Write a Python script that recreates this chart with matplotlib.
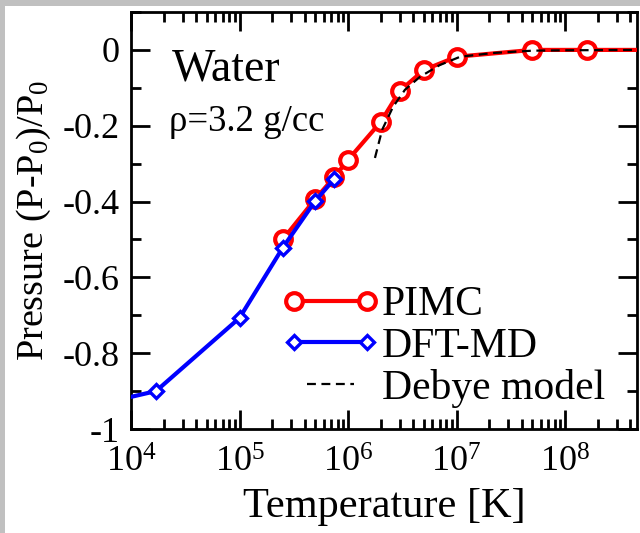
import matplotlib
matplotlib.use("Agg")
import matplotlib.pyplot as plt
from matplotlib.patches import Rectangle
from matplotlib.legend_handler import HandlerLine2D
from matplotlib.ticker import FixedLocator, LogLocator, NullFormatter, MultipleLocator

plt.rcParams['font.family'] = ['Liberation Serif', 'DejaVu Serif']
plt.rcParams['mathtext.fontset'] = 'custom'
plt.rcParams['mathtext.rm'] = 'Liberation Serif'
plt.rcParams['mathtext.it'] = 'Liberation Serif:italic'
plt.rcParams['axes.unicode_minus'] = False

# Data
pimc_T = [2.5e5, 5e5, 7.5e5, 1e6, 2e6, 3e6, 5e6, 1e7, 5e7, 1.6e8, 1e9]
pimc_P = [-0.50, -0.393, -0.335, -0.29, -0.19, -0.108, -0.053, -0.018, 0.0, 0.0, 0.0]

dft_T = [6e3, 1.7e4, 1e5, 2.5e5, 5e5, 7.5e5]
dft_P = [-0.93, -0.90, -0.707, -0.522, -0.398, -0.340]

debye_T = [1.77e6, 2.06e6, 2.6e6, 3.35e6, 4.6e6, 7e6, 1.08e7, 2.2e7, 5e7, 1e8, 5e8, 1e9]
debye_P = [-0.285, -0.211, -0.150, -0.105, -0.071, -0.040, -0.018, -0.008, -0.002, -0.001, 0.0, 0.0]

yticks = [-1, -0.8, -0.6, -0.4, -0.2, 0]
ytick_labels = ['-1', '-0.8', '-0.6', '-0.4', '-0.2', '0']
xticks = [1e4, 1e5, 1e6, 1e7, 1e8]
xtick_labels = [r'$10^{4}$', r'$10^{5}$', r'$10^{6}$', r'$10^{7}$', r'$10^{8}$']

fig = plt.figure(figsize=(6.4, 5.33), dpi=100)
fig.patch.set_facecolor('#c0c0c0')
fig.patches.append(Rectangle((5/640, 0), 1, (533-6)/533, transform=fig.transFigure,
                             facecolor='white', edgecolor='none', zorder=-10))

ax = fig.add_axes([131/640, (533-429)/533, (637-131)/640, (429-12)/533])
ax.set_xscale('log')
ax.set_xlim(1e4, 4.6e8)
ax.set_ylim(-1, 0.1)

l1, = ax.plot(pimc_T, pimc_P, '-o', color='#ff0000', lw=3, ms=12, mew=3.0,
              mfc='white', mec='#ff0000', label='PIMC', zorder=3)
l2, = ax.plot(dft_T, dft_P, '-D', color='#0000ff', lw=3, ms=7, mew=2.4,
              mfc='white', mec='#0000ff', label='DFT-MD', zorder=4)
l3, = ax.plot(debye_T, debye_P, color='black', lw=1.6, dashes=(4, 2.5),
              label='Debye model', zorder=5)

ax.set_yticks(yticks)
ax.set_yticklabels(ytick_labels)
ax.yaxis.set_minor_locator(MultipleLocator(0.1))
ax.xaxis.set_major_locator(FixedLocator(xticks))
ax.set_xticklabels(xtick_labels)
ax.xaxis.set_minor_locator(LogLocator(base=10, subs=range(2, 10), numticks=20))
ax.xaxis.set_minor_formatter(NullFormatter())

ax.tick_params(which='both', direction='in', top=True, right=True, width=2)
ax.tick_params(which='major', length=14)
ax.tick_params(which='minor', length=7)
ax.tick_params(axis='y', labelsize=26, pad=8)
ax.tick_params(axis='x', labelsize=26, pad=13)
for s in ax.spines.values():
    s.set_linewidth(2)

ax.set_xlabel('Temperature [K]', fontsize=30.5, labelpad=5)
ax.set_ylabel(r'Pressure (P-P$_0$)/P$_0$', fontsize=27.5, labelpad=7)

ax.text(0.080, 0.835, 'Water', transform=ax.transAxes, fontsize=33, va='baseline', ha='left')
ax.text(0.075, 0.715, 'ρ=3.2 g/cc', transform=ax.transAxes, fontsize=26.5, va='baseline', ha='left')

hm = {l1: HandlerLine2D(marker_pad=0.0), l2: HandlerLine2D(marker_pad=0.0)}
leg = ax.legend(handles=[l1, l2, l3], handler_map=hm,
                loc='upper left', bbox_to_anchor=((294-131)/506, 0.343), frameon=False,
                fontsize=30, handlelength=1.75, handletextpad=0.35, labelspacing=0.07,
                borderpad=0, borderaxespad=0, numpoints=2)

fig.savefig('out.png', dpi=100, facecolor=fig.get_facecolor())
